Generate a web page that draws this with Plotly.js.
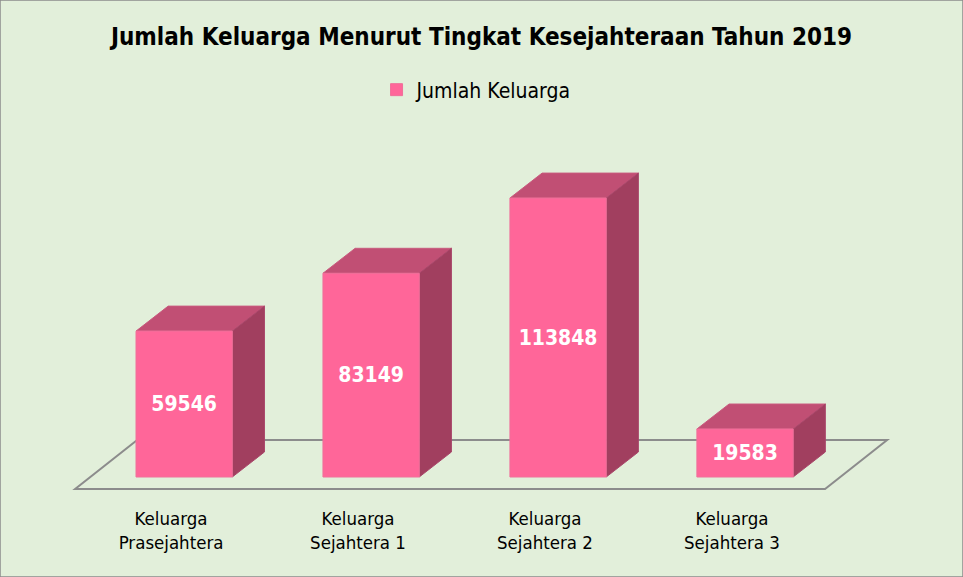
<!DOCTYPE html>
<html><head><meta charset="utf-8">
<script src="https://cdn.plot.ly/plotly-3.0.1.min.js"></script>
<style>html,body{margin:0;padding:0;background:#E2EFDA;} #chart{width:963px;height:577px;box-sizing:border-box;}</style>
</head><body><div id="chart"></div>
<script>
const categories = ["Keluarga<br>Prasejahtera", "Keluarga<br>Sejahtera 1", "Keluarga<br>Sejahtera 2", "Keluarga<br>Sejahtera 3"];
const seriesName = "Jumlah Keluarga";
const values = [59546, 83149, 113848, 19583];

const FONT = '"DejaVu Sans Condensed", "DejaVu Sans", Tahoma, sans-serif';
const barW = 0.515;          // bar width in category units
const dX = 0.172, dY = 10200; // bar depth offset
const fdX = 0.332, fdY = 20000; // floor depth offset
const floorFront = -4900;
const idx = values.map((v, i) => i);

const shapes = [];
// floor
const fl = -0.583, fr = 3.428;
shapes.push({type:'path', layer:'below', xref:'x', yref:'y',
  path:`M ${fl},${floorFront} L ${fr},${floorFront} L ${fr+fdX},${floorFront+fdY} L ${fl+fdX},${floorFront+fdY} Z`,
  line:{color:'#8C8C8C', width:2}, fillcolor:'rgba(0,0,0,0)'});
idx.forEach(i => {
  const x0 = i - barW/2, x1 = i + barW/2, v = values[i];
  // top face
  shapes.push({type:'path', layer:'below', xref:'x', yref:'y',
    path:`M ${x0},${v} L ${x1},${v} L ${x1+dX},${v+dY} L ${x0+dX},${v+dY} Z`,
    line:{color:'#C95A7E', width:1}, fillcolor:'#C14F74'});
  // side face
  shapes.push({type:'path', layer:'below', xref:'x', yref:'y',
    path:`M ${x1},0 L ${x1},${v} L ${x1+dX},${v+dY} L ${x1+dX},${dY} Z`,
    line:{color:'#A9466A', width:1}, fillcolor:'#A13F5F'});
});

const data = [{
  type:'bar', name: seriesName, x: idx, y: values, width: barW,
  marker:{color:'#FF6699', line:{color:'#F0709A', width:1}},
  text: values.map(String), textposition:'inside', insidetextanchor:'middle',
  textfont:{family: FONT, size:21, color:'#FFFFFF', weight:'bold'},
  constraintext:'none', hoverinfo:'skip'
}];

const layout = {
  width:963, height:577,
  paper_bgcolor:'#E2EFDA', plot_bgcolor:'rgba(0,0,0,0)',
  margin:{l:60, r:31, t:100, b:77},
  title:{text:'<b>Jumlah Keluarga Menurut Tingkat Kesejahteraan Tahun 2019</b>',
    font:{family:FONT, size:24, color:'#000000'}, x:0.5, xanchor:'center', y:0.937, yanchor:'middle'},
  showlegend:true,
  legend:{orientation:'h', x:0.363, xanchor:'left', y:1.025, yanchor:'middle',
    font:{family:FONT, size:21, color:'#000000'}, bgcolor:'rgba(0,0,0,0)', itemwidth:30},
  xaxis:{range:[-0.664, 4.0], tickvals: idx.map(i => i - 0.07), ticktext: categories,
    showgrid:false, zeroline:false, showline:false, ticks:'', ticklen:0, ticklabelstandoff:5,
    tickfont:{family:FONT, size:18.5, color:'#000000'}, fixedrange:true},
  yaxis:{range:[-9388, 153878], showgrid:false, zeroline:false, showline:false,
    showticklabels:false, ticks:'', fixedrange:true},
  shapes: shapes,
  bargap:0
};
layout.shapes.push({type:'rect', xref:'paper', yref:'paper', layer:'above',
  x0:-60/872, x1:1+31/872, y0:-77/400, y1:1+100/400, line:{color:'#8C8C8C', width:1.5}, fillcolor:'rgba(0,0,0,0)'});

Plotly.newPlot('chart', data, layout, {displayModeBar:false, staticPlot:true});
</script></body></html>
